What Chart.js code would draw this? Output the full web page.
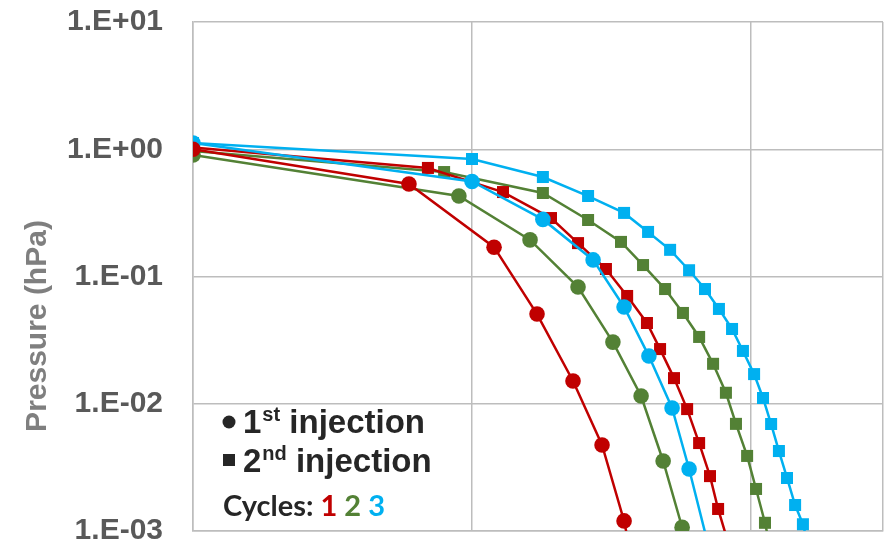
<!DOCTYPE html>
<html>
<head>
<meta charset="utf-8">
<script src="https://cdn.jsdelivr.net/npm/chart.js@4/dist/chart.umd.min.js"></script>
<style>
  html, body { margin: 0; padding: 0; background: #fff; }
  #wrap { position: relative; width: 884px; height: 540px; }
</style>
</head>
<body>
<div id="wrap"><canvas id="c" width="884" height="540"></canvas></div>
<script>
// Pumping time (x) and chamber pressure in hPa (y) for each cycle and injection
const cycle1FirstX = [0, 7.74, 10.79, 12.33, 13.62, 14.66, 15.45, 16.02];
const cycle1FirstP = [1.0, 0.533, 0.170, 0.0507, 0.0151, 0.00474, 0.00120, 0.000285];

const cycle2FirstX = [0, 9.53, 12.08, 13.80, 15.05, 16.06, 16.85, 17.53, 18.10];
const cycle2FirstP = [0.90, 0.429, 0.194, 0.0827, 0.0305, 0.0115, 0.00355, 0.00107, 0.000287];

const cycle3FirstX = [0, 10.0, 12.54, 14.34, 15.45, 16.34, 17.17, 17.78, 18.6];
const cycle3FirstP = [1.12, 0.558, 0.281, 0.135, 0.0576, 0.0237, 0.00926, 0.00307, 0.000593];

const cycle1SecondX = [0, 8.42, 11.11, 12.83, 13.80, 14.80, 15.56, 16.27, 16.74, 17.24, 17.71, 18.14, 18.53, 18.82, 19.28];
const cycle1SecondP = [1.03, 0.713, 0.461, 0.288, 0.183, 0.1145, 0.0703, 0.0431, 0.0269, 0.0159, 0.00908, 0.00491, 0.00270, 0.00149, 0.000685];

const cycle2SecondX = [0, 9.00, 12.54, 14.16, 15.34, 16.13, 16.92, 17.56, 18.14, 18.64, 19.10, 19.46, 19.86, 20.18, 20.50, 20.75];
const cycle2SecondP = [0.97, 0.662, 0.453, 0.278, 0.187, 0.123, 0.0797, 0.0517, 0.0335, 0.0206, 0.0122, 0.00695, 0.00389, 0.00214, 0.00116, 0.000638];

const cycle3SecondX = [0, 10.0, 12.54, 14.16, 15.45, 16.31, 17.10, 17.78, 18.35, 18.85, 19.32, 19.71, 20.11, 20.43, 20.72, 21.00, 21.29, 21.58, 21.86, 22.11];
const cycle3SecondP = [1.12, 0.838, 0.605, 0.429, 0.316, 0.224, 0.162, 0.112, 0.0797, 0.0556, 0.0387, 0.0260, 0.0171, 0.0111, 0.00693, 0.00425, 0.00261, 0.00160, 0.00113, 0.000684];

const yTickValues = [0.001, 0.01, 0.1, 1, 10];
const yTickLabels = ['1.E-03', '1.E-02', '1.E-01', '1.E+00', '1.E+01'];
const yTitle = 'Pressure (hPa)';
const cycleNames = ['1', '2', '3'];

const RED = '#C00000', GREEN = '#538135', CYAN = '#00B0F0';
const cycleColors = [RED, GREEN, CYAN];

const toPoints = (xs, ys) => xs.map((x, i) => ({ x: x, y: ys[i] }));

function series(label, xs, ys, color, square) {
  return {
    label: label,
    data: toPoints(xs, ys),
    borderColor: color,
    backgroundColor: color,
    borderWidth: 2.5,
    pointStyle: square ? 'rect' : 'circle',
    pointRadius: square ? 8.5 : 7.8,
    pointBorderWidth: 0,
    pointHoverRadius: square ? 8.5 : 7.8,
    tension: 0,
    order: square ? 1 : 0
  };
}

const datasets = [
  series('Cycle 1, 1st injection', cycle1FirstX, cycle1FirstP, RED, false),
  series('Cycle 2, 1st injection', cycle2FirstX, cycle2FirstP, GREEN, false),
  series('Cycle 3, 1st injection', cycle3FirstX, cycle3FirstP, CYAN, false),
  series('Cycle 1, 2nd injection', cycle1SecondX, cycle1SecondP, RED, true),
  series('Cycle 2, 2nd injection', cycle2SecondX, cycle2SecondP, GREEN, true),
  series('Cycle 3, 2nd injection', cycle3SecondX, cycle3SecondP, CYAN, true)
];

const FONT = '"Liberation Sans", Arial, sans-serif';

// Axis title and the hand-made legend with superscripts
const annotations = {
  id: 'annotations',
  afterDraw(chart) {
    const ctx = chart.ctx;
    ctx.save();
    ctx.translate(38, 326);
    ctx.rotate(-Math.PI / 2);
    ctx.font = 'bold 30px ' + FONT;
    ctx.fillStyle = '#7F7F7F';
    ctx.textAlign = 'center';
    ctx.textBaseline = 'middle';
    ctx.fillText(yTitle, 0, 0);
    ctx.restore();

    ctx.save();
    const dark = '#262626';
    ctx.fillStyle = dark;
    ctx.textAlign = 'left';
    ctx.textBaseline = 'alphabetic';

    function entry(x, base, main, sup, rest) {
      ctx.font = 'bold 33px ' + FONT;
      ctx.fillText(main, x, base);
      let cx = x + ctx.measureText(main).width + 1;
      ctx.font = 'bold 20px ' + FONT;
      ctx.fillText(sup, cx, base - 12);
      cx += ctx.measureText(sup).width;
      ctx.font = 'bold 33px ' + FONT;
      ctx.fillText(rest, cx, base);
    }

    ctx.beginPath();
    ctx.arc(229, 422, 6.5, 0, Math.PI * 2);
    ctx.fill();
    entry(243, 433, '1', 'st', ' injection');

    ctx.fillRect(223, 454, 12, 12);
    entry(243, 472, '2', 'nd', ' injection');

    ctx.font = 'bold 29px Lato, "Open Sans", sans-serif';
    let x = 223;
    const lbl = 'Cycles: ';
    ctx.fillStyle = dark;
    ctx.fillText(lbl, x, 516);
    x += ctx.measureText(lbl).width;
    cycleNames.forEach((n, i) => {
      ctx.fillStyle = cycleColors[i];
      ctx.fillText(n, x, 516);
      x += ctx.measureText(n + ' ').width;
    });
    ctx.restore();
  }
};

new Chart(document.getElementById('c'), {
  type: 'line',
  data: { datasets: datasets },
  plugins: [annotations],
  options: {
    responsive: false,
    animation: false,
    events: [],
    layout: { autoPadding: false, padding: { top: 22, right: 1, left: 0, bottom: 0 } },
    plugins: { legend: { display: false }, tooltip: { enabled: false } },
    scales: {
      x: {
        type: 'linear',
        min: 0,
        max: 24.73,
        ticks: { display: false, stepSize: 10 },
        grid: { color: '#BDBDBD', lineWidth: 1.5, drawTicks: false },
        border: { color: '#BDBDBD', width: 1.5 },
        afterFit(s) { s.height = 9; s.paddingLeft = 0; s.paddingRight = 0; }
      },
      y: {
        type: 'logarithmic',
        min: 0.001,
        max: 10,
        afterBuildTicks(s) { s.ticks = yTickValues.map(v => ({ value: v })); },
        ticks: {
          padding: 30,
          color: '#595959',
          font: { family: FONT, size: 30, weight: 'bold' },
          callback: (v, i) => yTickLabels[i]
        },
        grid: { color: '#BDBDBD', lineWidth: 1.5, drawTicks: false },
        border: { color: '#BDBDBD', width: 1.5 },
        afterFit(s) { s.width = 193; s.paddingTop = 0; s.paddingBottom = 0; }
      }
    }
  }
});
</script>
</body>
</html>
